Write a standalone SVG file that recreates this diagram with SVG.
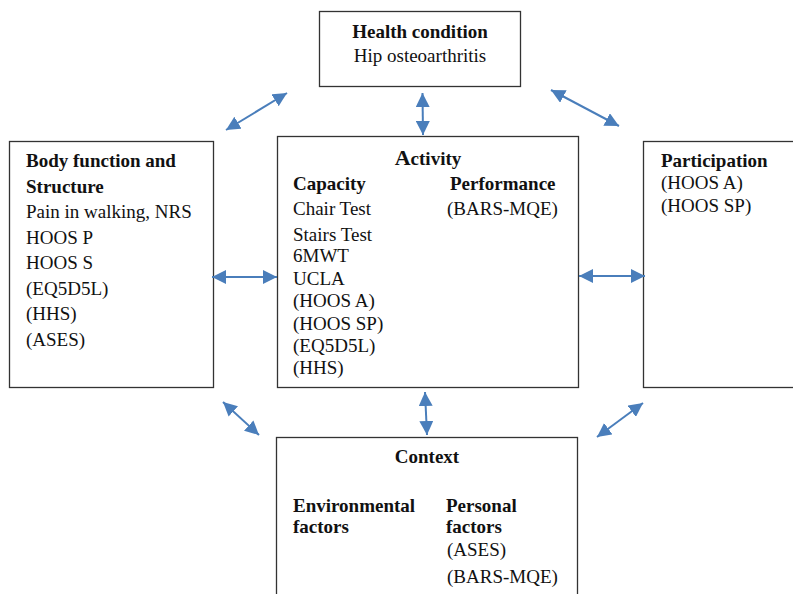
<svg xmlns="http://www.w3.org/2000/svg" width="793" height="594" viewBox="0 0 793 594">
<style>
.box{fill:#fff;stroke:#333;stroke-width:1.3}
text{font-family:"Liberation Serif","Times New Roman",serif;font-size:19px;fill:#111}
.b{font-weight:bold}
.c{text-anchor:middle}
.arr{stroke:#4A7EBB;stroke-width:2;fill:none;marker-start:url(#ah);marker-end:url(#ah)}
</style>
<defs>
<marker id="ah" markerUnits="userSpaceOnUse" markerWidth="14" markerHeight="14" refX="12" refY="6" orient="auto-start-reverse" viewBox="0 0 12 12">
<path d="M0,0 L12,6 L0,12 z" fill="#4A7EBB"/>
</marker>
</defs>
<rect width="793" height="594" fill="#fff"/>
<g id="health">
<rect class="box" x="319.5" y="11.5" width="201" height="75"/>
<text class="b c" x="420" y="38">Health condition</text>
<text class="c" x="420" y="62">Hip osteoarthritis</text>
</g>
<g id="body">
<rect class="box" x="9.5" y="141.5" width="204" height="246"/>
<text class="b" x="26" y="167">Body function and</text>
<text class="b" x="26" y="193">Structure</text>
<text x="26" y="218">Pain in walking, NRS</text>
<text x="26" y="244">HOOS P</text>
<text x="26" y="269">HOOS S</text>
<text x="26" y="295">(EQ5D5L)</text>
<text x="26" y="320">(HHS)</text>
<text x="26" y="346">(ASES)</text>
</g>
<g id="activity">
<rect class="box" x="277.5" y="136.5" width="301" height="251"/>
<text class="b c" x="428" y="165"><tspan font-size="22">A</tspan>ctivity</text>
<text class="b" x="293" y="190">Capacity</text>
<text class="b" x="450" y="190">Performance</text>
<text x="293" y="215">Chair Test</text>
<text x="447" y="215">(BARS-MQE)</text>
<text x="293" y="241">Stairs Test</text>
<text x="293" y="262">6MWT</text>
<text x="293" y="285">UCLA</text>
<text x="293" y="307">(HOOS A)</text>
<text x="293" y="330">(HOOS SP)</text>
<text x="293" y="352">(EQ5D5L)</text>
<text x="293" y="374">(HHS)</text>
</g>
<g id="participation">
<rect class="box" x="643.5" y="141.5" width="170" height="246"/>
<text class="b" x="661" y="167">Participation</text>
<text x="661" y="189">(HOOS A)</text>
<text x="661" y="212">(HOOS SP)</text>
</g>
<g id="context">
<rect class="box" x="276.5" y="437.5" width="301" height="180"/>
<text class="b c" x="427" y="463">Context</text>
<text class="b" x="293" y="512">Environmental</text>
<text class="b" x="293" y="533">factors</text>
<text class="b" x="446" y="512">Personal</text>
<text class="b" x="446" y="533">factors</text>
<text x="447" y="556">(ASES)</text>
<text x="447" y="583">(BARS-MQE)</text>
</g>
<g id="connectors">
<line class="arr" x1="226" y1="130" x2="287" y2="93"/>
<line class="arr" x1="422.5" y1="93" x2="423" y2="135"/>
<line class="arr" x1="551" y1="90" x2="619" y2="126"/>
<line class="arr" x1="212" y1="277" x2="277" y2="277"/>
<line class="arr" x1="579" y1="276" x2="645" y2="276"/>
<line class="arr" x1="223" y1="402" x2="259" y2="435"/>
<line class="arr" x1="425" y1="392" x2="427" y2="435"/>
<line class="arr" x1="643" y1="403" x2="597" y2="437"/>
</g>
</svg>
